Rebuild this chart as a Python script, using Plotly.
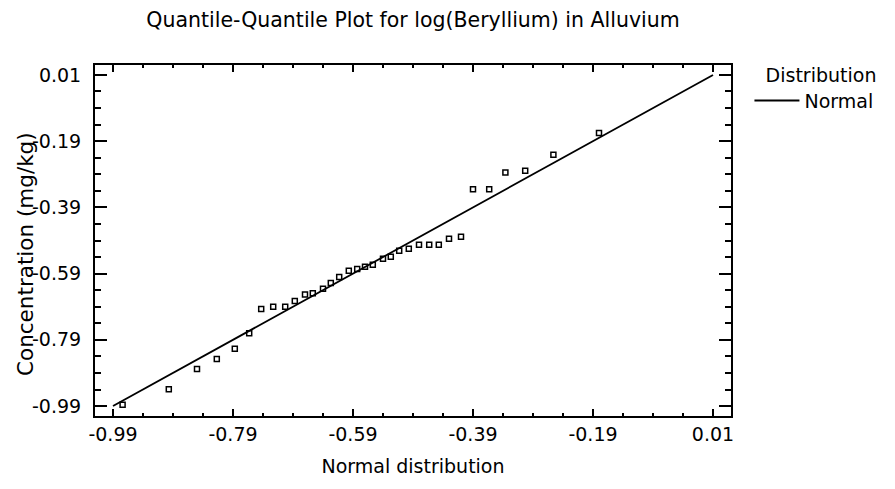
import plotly.graph_objects as go

# Data
normal_quantiles = [-0.974, -0.897, -0.850, -0.817, -0.787, -0.763, -0.743, -0.723,
                    -0.703, -0.687, -0.670, -0.657, -0.640, -0.627, -0.613, -0.597,
                    -0.583, -0.570, -0.557, -0.540, -0.527, -0.513, -0.497, -0.480,
                    -0.463, -0.447, -0.430, -0.410, -0.390, -0.363, -0.336, -0.303,
                    -0.256, -0.180]
log_be = [-0.986, -0.939, -0.878, -0.848, -0.817, -0.770, -0.697, -0.690,
          -0.690, -0.673, -0.653, -0.649, -0.636, -0.618, -0.600, -0.581,
          -0.576, -0.569, -0.563, -0.545, -0.539, -0.521, -0.515, -0.503,
          -0.503, -0.503, -0.485, -0.479, -0.335, -0.335, -0.285, -0.279,
          -0.231, -0.165]
fit_x = [-0.99, 0.01]
fit_y = [-0.99, 0.01]
tick_vals = [-0.99, -0.79, -0.59, -0.39, -0.19, 0.01]
tick_text = ["-0.99", "-0.79", "-0.59", "-0.39", "-0.19", "0.01"]

FONT = "DejaVu Sans"

fig = go.Figure()
fig.add_trace(go.Scatter(
    x=normal_quantiles, y=log_be, mode="markers",
    marker=dict(symbol="square-open", size=5, color="black", line=dict(width=1.5, color="black")),
    showlegend=False, hoverinfo="skip"))
fig.add_trace(go.Scatter(
    x=fit_x, y=fit_y, mode="lines", name="Normal",
    line=dict(color="black", width=1.8)))

common = dict(
    showgrid=False, zeroline=False, showline=True, linecolor="black", linewidth=2,
    mirror="ticks", ticks="inside", tickcolor="black", tickwidth=2,
    tickvals=tick_vals, ticktext=tick_text, range=[-1.02, 0.04],
    tickfont=dict(family=FONT, size=19, color="black"),
)

fig.update_xaxes(**common, ticklen=7, ticklabelstandoff=0,
                 minor=dict(ticks="inside", ticklen=3, tick0=-0.99, dtick=0.05,
                            tickcolor="black", tickwidth=2),
                 title=dict(text="Normal distribution", standoff=16,
                            font=dict(family=FONT, size=19, color="black")))
fig.update_yaxes(**common, ticklen=12, ticklabelstandoff=8,
                 minor=dict(ticks="inside", ticklen=6, tick0=-0.99, dtick=0.05,
                            tickcolor="black", tickwidth=2))

# y-axis title placed so it slightly overlaps the tick labels, as in the reference
fig.add_annotation(text="Concentration (mg/kg)", textangle=-90,
                   xref="paper", yref="paper", x=(17 - 87) / 636, y=0.4615,
                   xanchor="center", yanchor="middle", showarrow=False,
                   font=dict(family=FONT, size=21.5, color="black"))

fig.update_layout(
    width=887, height=481,
    margin=dict(l=87, r=164, t=57, b=73),
    paper_bgcolor="white", plot_bgcolor="white",
    title=dict(text="Quantile-Quantile Plot for log(Beryllium) in Alluvium",
               x=0.5, xref="paper", xanchor="center",
               y=1 - 12 / 481, yref="container", yanchor="middle",
               font=dict(family=FONT, size=20.5, color="black")),
    legend=dict(x=1.029, xanchor="left", y=1.023, yanchor="top",
                title=dict(text="Distribution", side="top right",
                           font=dict(family=FONT, size=19, color="black")),
                font=dict(family=FONT, size=19, color="black"),
                bgcolor="rgba(0,0,0,0)", itemwidth=45, tracegroupgap=0),
    font=dict(family=FONT, color="black"),
)

fig.write_html("out.html")
